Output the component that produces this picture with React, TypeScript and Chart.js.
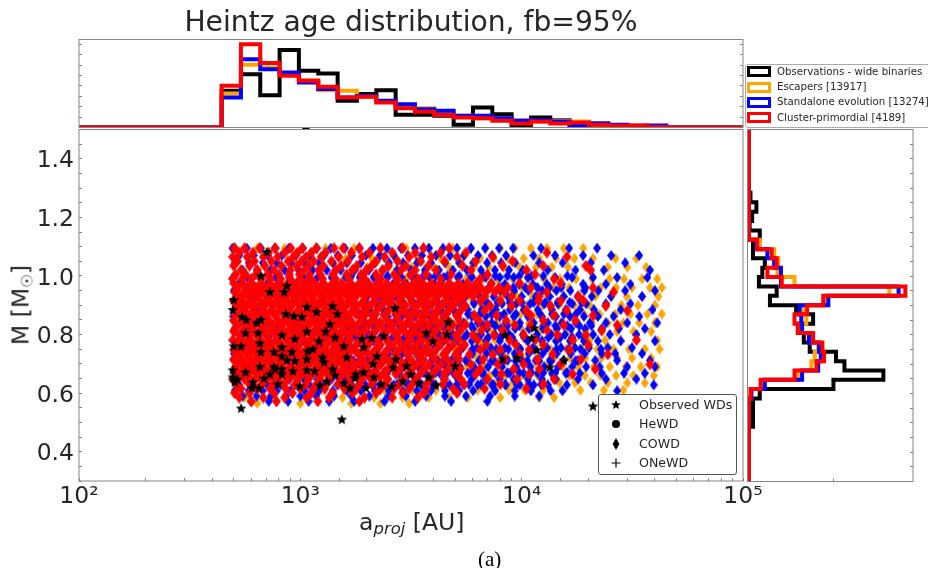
import { useEffect, useRef } from "react";
import { Chart, registerables } from "chart.js";
Chart.register(...registerables);

// ---- top histogram (projected separation) ----
const sepEdges = [441,539,659,806,985,1205,1474,1802,2204,2695,3295,4030,4927,6025,7369,9009,11015,13470,16474,20146,24635,30130,36840,45040];
const sepBlack = [.353,.513,.311,.744,.545,.519,.256,.321,.359,.122,.122,.112,.026,.192,.128,.016,.096,.07,.016,.006,0,0,0];
const sepOrange = [.327,.603,.577,.506,.455,.359,.353,.295,.25,.192,.186,.144,.112,.09,.09,.07,.058,.064,.058,.026,.016,.016,.01];
const sepBlue = [.288,.657,.561,.529,.433,.369,.288,.304,.256,.224,.176,.16,.112,.112,.09,.064,.07,.058,.016,.042,.026,.016,.019];
const sepRed = [.401,.801,.619,.497,.449,.391,.288,.295,.24,.186,.151,.119,.096,.09,.064,.038,.058,.038,.048,.026,.016,.019,.006];

// ---- right histogram (mass) ----
const massEdges = [.487,.519,.551,.583,.615,.647,.678,.71,.742,.774,.806,.838,.87,.901,.933,.965,.997,1.029,1.061,1.092,1.124,1.156,1.188,1.22,1.252,1.284];
const massBlack = [.05,.05,.05,.13,1,1.59,1.13,1.03,.72,.65,.58,.76,.56,.25,.33,.12,.16,.19,.05,.05,.13,.01,.04,.09,.02];
const massOrange = [0,0,0,.03,.18,.58,.74,.78,.82,.74,.58,.68,.64,.91,1.66,.54,.34,.35,.3,.13,0,0,0,0,0];
const massBlue = [0,0,0,.03,.19,.63,.82,.85,.83,.71,.63,.62,.6,.94,1.77,.38,.38,.3,.22,.09,0,0,0,0,0];
const massRed = [0,0,0,.02,.14,.54,.8,.89,.87,.76,.58,.54,.69,.88,1.85,.39,.22,.33,.27,.1,0,0,0,0,0];

// ---- observed white dwarfs: [a_proj, M] ----
const observedWDs = [[705,1.082],[663,1],[870,.966],[728,.945],[845,.945],[500,.918],[495,.884],[1070,.894],[1400,.897],[1185,.877],[1470,.87],[2680,.89],[860,.87],[935,.863],[1015,.86],[545,.86],[570,.85],[663,.85],[635,.84],[565,.805],[645,.805],[825,.798],[1070,.81],[1360,.835],[1300,.81],[1435,.79],[945,.785],[1215,.777],[656,.77],[500,.76],[540,.76],[663,.74],[760,.74],[825,.757],[915,.74],[1080,.743],[1140,.75],[825,.726],[870,.712],[945,.71],[1070,.716],[1260,.722],[1280,.705],[656,.69],[760,.69],[1570,.76],[1620,.722],[1900,.785],[2100,.788],[1930,.757],[2380,.795],[2220,.726],[2130,.7],[2700,.716],[2630,.688],[3710,.805],[3970,.777],[4660,.842],[4600,.8],[5000,.692],[3020,.692],[3150,.664],[495,.678],[565,.671],[495,.654],[520,.647],[505,.637],[685,.65],[728,.664],[770,.682],[825,.682],[825,.664],[925,.675],[1070,.678],[1160,.675],[1400,.682],[1435,.661],[1780,.664],[1930,.671],[2150,.654],[1760,.651],[610,.637],[605,.617],[650,.617],[995,.623],[1225,.627],[1320,.64],[1570,.634],[1675,.617],[1980,.617],[2320,.63],[2590,.623],[2900,.64],[3430,.634],[3810,.654],[4090,.627],[790,.63],[540,.548],[1540,.51],[8430,.798],[11400,.822],[11100,.788],[11700,.747],[8200,.716],[9500,.72],[13400,.688],[15500,.712],[21000,.555]];
const heWD = [[1060,1.515]];

// ---- simulated COWD, listed as mass rows with the separations read along each ----
const redMass = [1.095,1.08,1.065,1.05,1.035,1.02,1.005,.99,.975,.96,.945,.93,.915,.898,.882,.865,.848,.832,.815,.798,.782,.765,.748,.732,.715,.698,.682,.665,.648,.63,.615,.6,.585,.572,.955,.905,.87,.84,.81,.775,.74,.705,.675,.655];
const redAU = [
[505,560,655,770,905,1020,1180,1420,1560,1850,2300,2900,3600,4700],
[530,610,720,850,970,1120,1300,1700,2050,2600,3300,4300,5600,13000],
[495,575,680,790,930,1060,1240,1490,1900,2400,3100,3900,5100,7400,16000],
[520,620,740,880,1010,1150,1380,1640,2200,2750,3500,4500,6200,9100],
[500,590,690,820,960,1090,1270,1530,1800,2100,2500,3000,3800,5400,8200,12500,19500],
[540,640,760,900,1040,1210,1450,1720,1990,2350,2850,3300,4100,5900,10500,20500],
[510,565,630,710,800,890,990,1100,1230,1400,1620,1880,2200,2650,3150,3700,4800,7000,11500],
[495,545,600,665,735,815,900,1000,1110,1260,1440,1660,1950,2300,2750,3400,4300,6500,14000],
[500,549,603,662,727,798,876,962,1056,1160,1273,1398,1535,1685,1850,2032,2231,2449,2689,2953,3242,3560,3909,4292,4712,5174,5681,6237,7300,9800,15000],
[522,575,630,695,760,835,915,1008,1105,1215,1335,1465,1610,1765,1940,2130,2340,2570,2820,3100,3400,3730,4100,4500,4940,5430,5960,6540,7180,7880,8650,11000,21000],
[505,555,610,668,735,805,885,970,1065,1170,1285,1410,1550,1700,1870,2050,2250,2470,2715,2980,3270,3590,3945,4330,4755,5220,5730,6290,6900,7590,8330,13000,26000],
[530,582,640,702,770,845,930,1020,1120,1230,1350,1480,1625,1785,1960,2150,2365,2595,2850,3130,3435,3770,4140,4545,4990,5480,6020,6800,9000,12000,18000],
[498,548,602,660,725,796,874,960,1054,1157,1270,1395,1530,1700,1930,2180,2470,2800,3180,3600,4080,4620,5230,6500,8000,9800,11900,15000,19000],
[520,572,628,690,758,832,914,1003,1101,1209,1328,1458,1610,1810,2050,2320,2630,2980,3380,3830,4340,4920,5570,7200,9000,13500,24000],
[505,555,610,670,735,807,886,973,1068,1173,1288,1414,1552,1720,1950,2210,2500,2840,3210,3640,4130,4680,5300,6800,10500,16000,30000],
[530,582,639,702,771,846,929,1020,1120,1230,1351,1483,1640,1860,2110,2390,2710,3070,3480,3950,4470,5070,6100,7700,11000,14000,21000],
[498,546,600,659,723,794,872,957,1051,1154,1267,1392,1528,1690,1920,2170,2460,2790,3160,3590,4070,4610,5220,6400,8500,12500,17500],
[518,569,625,686,753,827,908,997,1095,1202,1320,1449,1600,1800,2040,2310,2620,2970,3370,3820,4330,4900,5560,7000,9300,11000,15500,27000],
[502,551,605,665,730,801,880,966,1061,1165,1279,1404,1542,1710,1940,2200,2490,2820,3200,3630,4110,4660,5280,6600,8200,13000,23000],
[528,580,637,699,768,843,926,1016,1116,1225,1345,1477,1630,1850,2100,2380,2700,3060,3470,3930,4450,5050,6000,7500,10200,14500,19500],
[496,545,598,657,721,792,870,955,1048,1151,1264,1388,1524,1680,1910,2160,2450,2780,3150,3570,4050,4590,5200,6300,8800,11500,17000,33000],
[516,567,622,683,750,824,905,993,1090,1197,1314,1443,1590,1790,2030,2300,2610,2960,3350,3800,4310,4880,5530,6900,9400,12500,20000],
[500,549,603,662,727,798,876,962,1056,1160,1273,1398,1535,1700,1930,2180,2470,2800,3180,3600,4080,4620,5230,6500,8000,10800,16500],
[525,576,633,695,763,838,920,1010,1109,1217,1337,1468,1620,1840,2090,2370,2680,3040,3450,3910,4430,5020,5800,7400,9800,13800,24500],
[498,547,601,660,725,796,874,960,1054,1157,1270,1395,1530,1690,1920,2170,2460,2790,3160,3590,4070,4610,5220,6700,8400,11800,18500],
[518,569,625,686,753,827,908,997,1095,1202,1320,1449,1600,1800,2040,2310,2620,2970,3370,3820,4330,4900,5900,7800,10200,15000,38000],
[502,551,605,665,730,801,880,966,1061,1165,1279,1404,1542,1710,1940,2200,2490,2820,3200,3630,4110,4660,5280,6500,9200,12000,21500],
[528,580,637,699,768,843,926,1016,1116,1225,1345,1477,1630,1850,2100,2380,2700,3060,3470,3930,4450,5050,6200,8100,10800,17000],
[496,560,625,700,790,880,975,1090,1220,1360,1520,1700,1900,2150,2480,2900,3300,3850,4500,5300,7000,9500,14000],
[515,590,670,750,840,945,1060,1180,1310,1480,1660,1850,2100,2400,2800,3200,3700,4400,5500,8000,12500],
[540,640,730,860,1000,1150,1290,1580,1780,2300,2650,3100,3700,4900,6800,10500],
[505,590,760,920,1120,1400,1720,2200,2900,3600,5100],
[530,680,850,1070,1350,1950,2600,3400],
[600,780,1200,1850],
[515,572,635,705,783,869,965,1071,1189,1320,1465,1626,1805,2004,2224,2469,2741,3042,3377,3748,4161,4618,5300,6100],
[540,600,668,742,823,914,1015,1127,1250,1390,1542,1712,1900,2110,2342,2600,2886,3204,3556,3948,4382,4864],
[508,564,626,695,772,857,951,1056,1172,1301,1444,1603,1780,1976,2193,2435,2703,3000,3330,3696,4103,4554],
[532,590,655,727,807,896,995,1104,1226,1361,1510,1677,1861,2066,2294,2546,2826,3137,3482,3865,4290,4762],
[500,555,616,684,759,843,936,1039,1153,1280,1421,1577,1751,1943,2157,2394,2658,2950,3275,3635,4035],
[525,583,647,718,797,885,982,1090,1210,1343,1491,1655,1837,2039,2263,2512,2789,3096,3436,3814,4233],
[512,568,631,700,777,863,958,1063,1180,1310,1454,1614,1792,1989,2208,2451,2720,3020,3352,3721],
[538,597,663,736,817,907,1007,1118,1241,1378,1530,1698,1885,2092,2322,2578,2862,3177,3526],
[505,561,622,691,767,851,945,1049,1164,1292,1434,1592,1767,1961,2177,2417,2683],
[528,586,650,722,801,889,987,1096,1217,1351,1500,1665,1848,2052,2278]
];

const blueMass = [1.095,1.07,1.045,1.02,.995,.972,.95,.93,.905,.885,.862,.84,.82,.8,.778,.755,.735,.712,.69,.668,.648,.628,.608,.59,.572,1,.96,.91,.87,.83,.79,.75,.71,.67,.63];
const blueAU = [
[495,573,663,767,887,1026,1187,1373,1589,1838,2127,2461,2847,3294,3811,4409,5101,5902,6828,7900,9140,12235,16378,21924],
[530,615,712,824,953,1103,1276,1476,1708,1976,2287,2646,3062,3543,4099,4743,5488,6350,7347,8500,11300,14156,18949,25365,33954],
[505,585,677,783,906,1048,1213,1403,1624,1879,2174,2516,2911,3368,3897,4509,5217,6036,6984,8081,9350,12000,15300,20500,29347],
[548,634,734,849,982,1136,1315,1521,1760,2037,2357,2727,3155,3651,4224,4888,5656,6544,7572,8761,10137,13100,17500,23500,38000],
[498,576,667,772,893,1033,1195,1383,1600,1851,2142,2478,2867,3318,3839,4442,5140,5947,6881,7962,9212,10660,14156,16900,21000,27000,37000],
[525,607,703,813,941,1089,1260,1458,1687,1952,2259,2614,3024,3499,4049,4685,5420,6272,7257,8397,9716,11242,13000,15200,18949,24000,31000],
[500,579,670,775,897,1038,1201,1390,1608,1861,2153,2491,2883,3336,3860,4466,5167,5979,6918,8005,9262,10717,12400,14348,16602,19209,22200,29347,40000],
[540,625,723,837,968,1120,1296,1500,1735,2008,2323,2688,3110,3599,4164,4818,5575,6451,7464,8637,9993,11563,13379,15480,17912,20725,25365,35000],
[510,590,683,790,914,1058,1224,1416,1639,1896,2194,2539,2938,3399,3933,4551,5266,6093,7050,8157,9438,10921,12636,14621,16917,19574,24000,31000],
[552,639,739,855,990,1145,1325,1533,1774,2053,2375,2748,3180,3679,4257,4926,5700,6595,7631,8830,10216,11821,13678,15826,18312,21188,28000,39000],
[498,576,667,772,893,1033,1195,1383,1600,1851,2142,2478,2867,3318,3839,4442,5140,5947,6881,7962,9212,10660,12334,14271,16513,19106,22107,26000,34000],
[530,613,710,821,950,1099,1272,1472,1703,1970,2280,2638,3052,3531,4086,4728,5470,6329,7323,8474,9805,11345,13127,15189,17574,20334,24000,30000,41000],
[505,584,676,782,905,1047,1211,1402,1622,1877,2171,2512,2907,3363,3892,4503,5210,6029,6975,8071,9338,10805,12502,14466,16738,19367,23000,27500,36000],
[548,634,734,849,982,1136,1315,1521,1760,2037,2357,2727,3155,3651,4224,4888,5656,6544,7572,8761,10137,11729,13571,15703,18170,21024,25000,33000],
[498,576,667,772,893,1033,1195,1383,1600,1851,2142,2478,2867,3318,3839,4442,5140,5947,6881,7962,9212,10660,12334,14271,16513,19106,22107,28000,40000],
[525,607,703,813,941,1089,1260,1458,1687,1952,2259,2614,3024,3499,4049,4685,5420,6272,7257,8397,9716,11242,13008,15051,17415,20150,24500,31500],
[502,581,672,778,900,1041,1205,1394,1613,1866,2159,2498,2891,3345,3870,4478,5181,5995,6937,8026,9287,10746,12434,14387,16647,19262,23000,26500,35000],
[540,625,723,837,968,1120,1296,1500,1735,2008,2323,2688,3110,3599,4164,4818,5575,6451,7464,8637,9993,11563,13379,15480,17912,21500,27000,38000],
[510,590,683,790,914,1058,1224,1416,1639,1896,2194,2539,2938,3399,3933,4551,5266,6093,7050,8157,9438,10921,12636,14621,16917,19574,22500,30000,40000],
[552,639,739,855,990,1145,1325,1533,1774,2053,2375,2748,3180,3679,4257,4926,5700,6595,7631,8830,10216,11821,13678,15826,18312,23000,29000,36000],
[498,576,667,772,893,1033,1195,1383,1600,1851,2142,2478,2867,3318,3839,4442,5140,5947,6881,7962,9212,10660,12334,14271,18000,24000,33000],
[530,613,710,821,950,1099,1272,1472,1703,1970,2280,2638,3052,3531,4086,4728,5470,6329,7323,8474,9805,11345,13127,16000,21000,39500],
[505,584,676,782,905,1047,1211,1402,1622,1877,2171,2512,2907,3363,3892,4503,5210,6029,7600,9300,11000,13500,15300,27000],
[548,634,734,860,1000,1180,1420,1700,2050,2500,3000,3700,4500,5600,7200,9300,12000],
[600,720,880,1090,1350,1750,2400,3300,4800,7000],
[1700,1926,2182,2472,2801,3173,3595,4073,4615,5229,5924,6712,7604,8615,9761,11059,12530,16084],
[1810,2050,2323,2632,2982,3378,3827,4336,4913,5566,6306,7145,8095,9171,10391,11773,13339,15113,19400],
[1740,1971,2233,2530,2866,3248,3680,4169,4723,5351,6063,6869,7782,8817,9990,11318,12823,14528,16460,18650],
[1860,2107,2387,2705,3065,3472,3934,4457,5050,5721,6482,7344,8320,9427,10680,12100,13709,15532,17597,21500],
[1700,1926,2182,2472,2801,3173,3595,4073,4615,5229,5924,6712,7604,8615,9761,11059,12530,14196,16084,18223,20647],
[1790,2028,2298,2603,2949,3341,3786,4289,4860,5506,6238,7067,8007,9072,10278,11645,13193,14947,16935,19187],
[1720,1949,2208,2502,2834,3211,3638,4122,4670,5291,5995,6792,7695,8718,9878,11191,12680,14366,16276,18441,22800],
[1850,2096,2375,2691,3049,3454,3913,4433,5023,5691,6448,7305,8277,9377,10624,12037,13638,15451,17506],
[1700,1926,2182,2472,2801,3173,3595,4073,4615,5229,5924,6712,7604,8615,9761,11059,12530,14196,16084],
[1880,2130,2413,2734,3098,3510,3977,4506,5105,5784,6553,7425,8412,9531,10799,12235]
];

const orangeMass = [1.095,1.06,1.03,.99,.96,.93,.9,.87,.84,.81,.78,.75,.72,.69,.66,.635,.61,.585,.565];
const orangeAU = [
[492,640,850,1300,1750,2300,3000,3800,4900,5900,6900,8000,9300,11000,13000,15500,19000],
[600,1100,1600,2100,2700,3400,4300,5400,6500,7500,8700,10200,12000,14300,17300,21000,26500,33000],
[700,1450,2000,2500,3200,4000,4700,6100,7100,8300,9800,11600,13700,16200,19800,24500,30000,36500],
[1200,2300,3000,3600,4400,5600,6700,7800,9100,10700,12600,14900,17600,20800,25000,29000,35000,41000],
[2600,3400,4200,5200,6300,7300,8500,10000,11800,13900,16400,19300,22700,26700,31500,38000,43000],
[3000,3900,4800,5800,6900,8100,9500,11200,13200,15500,18300,21500,25300,29800,35000,41500],
[2800,3600,4500,5500,6600,7700,9000,10600,12500,14700,17300,20300,24000,28200,33500,40000],
[3300,4200,5100,6100,7200,8400,9900,11700,13800,16200,19100,22500,26500,31000,37000,43000],
[2900,3700,4600,5600,6700,7800,9200,10800,12700,15000,17700,20800,24500,28800,34000,40000],
[3400,4300,5300,6300,7400,8700,10200,12000,14100,16600,19500,23000,27000,32000,38500],
[2700,3500,4400,5400,6500,7600,8900,10500,12400,14600,17200,20200,23800,28000,33000,41000],
[3100,4000,5000,6000,7100,8300,9800,11500,13500,15900,18700,22000,26000,30500,36000,42000],
[2500,3300,4200,5200,6300,7400,8600,10100,11900,14000,16500,19400,22900,27000,31500,38500],
[2900,3800,4700,5700,6800,8000,9400,11100,13000,15300,18000,21200,25000,29500,34500,41000],
[1300,2100,3000,4000,5000,6100,7200,8500,10000,11800,13900,16400,19300,22700,26700,32000,39500],
[700,1500,2500,3400,4500,5500,6600,7700,9100,10700,12600,14800,17400,20500,24500,30000,36000],
[510,900,1250,1800,2400,3200,4100,5200,6300,7500,8800,10300,12500,15200,18400,23500,28800],
[560,760,1050,1550,2150,2900,3800,4700,5700,8000,12000,14000],
[640,1000,1700,2300,3100]
];

const rowsToPoints = (masses: number[], rows: number[][]) =>
  rows.flatMap((row, i) => row.map((a) => ({ x: a, y: masses[i] })));

const histX = (edges: number[], vals: number[], lo: number, hi: number) => {
  const pts = [{ x: lo, y: 0 }];
  vals.forEach((v, i) => pts.push({ x: edges[i], y: v }, { x: edges[i + 1], y: v }));
  pts.push({ x: edges[edges.length - 1], y: 0 }, { x: hi, y: 0 });
  pts.splice(1, 0, { x: edges[0], y: 0 });
  return pts;
};
const histY = (edges: number[], vals: number[], lo: number, hi: number) =>
  histX(edges, vals, lo, hi).map((p) => ({ x: p.y, y: p.x }));

const BLACK = "#000000";
const ORANGE = "#ffa500";
const BLUE = "#0000ff";
const RED = "#ff0000";
const TEXT = "#262626";
const SPINE = "#858585";
const FONT = "'DejaVu Sans', sans-serif";

const polygonSprite = (w: number, h: number, color: string, pts: number[][]) => {
  const c = document.createElement("canvas");
  c.width = w;
  c.height = h;
  const g = c.getContext("2d")!;
  g.fillStyle = color;
  g.beginPath();
  pts.forEach(([x, y], i) => (i ? g.lineTo(x, y) : g.moveTo(x, y)));
  g.closePath();
  g.fill();
  return c;
};
const diamond = (color: string, w: number, h: number) =>
  polygonSprite(w, h, color, [[w / 2, 0], [w, h / 2], [w / 2, h], [0, h / 2]]);
const starPoints = (cx: number, cy: number, R: number) => {
  const out: number[][] = [];
  for (let i = 0; i < 10; i++) {
    const r = i % 2 ? R * 0.45 : R;
    const t = -Math.PI / 2 + (i * Math.PI) / 5;
    out.push([cx + r * Math.cos(t), cy + r * Math.sin(t)]);
  }
  return out;
};

const framePlugin = {
  id: "frame",
  afterDraw(chart: any) {
    const { ctx, chartArea: a } = chart;
    ctx.save();
    ctx.strokeStyle = SPINE;
    ctx.lineWidth = 1;
    ctx.strokeRect(a.left, a.top, a.right - a.left, a.bottom - a.top);
    ctx.restore();
  },
};

const tickGrid = { drawOnChartArea: false, drawTicks: true, tickLength: -3, tickColor: SPINE, tickWidth: 1 };
const noBorder = { display: false };

const histLine = (data: any[], color: string) => ({
  data,
  type: "line",
  borderColor: color,
  borderWidth: 4,
  pointRadius: 0,
  tension: 0,
  fill: false,
  clip: 0,
  borderJoinStyle: "miter",
});

const scatter = (data: any[], style: any, radius = 5.5, clip: any = 0) => ({
  data,
  showLine: false,
  pointStyle: style,
  pointRadius: radius,
  pointHoverRadius: radius,
  backgroundColor: BLACK,
  borderColor: BLACK,
  borderWidth: 0,
  clip,
});

export default function App() {
  const mainRef = useRef<HTMLCanvasElement>(null);
  const topRef = useRef<HTMLCanvasElement>(null);
  const rightRef = useRef<HTMLCanvasElement>(null);

  useEffect(() => {
    const star = polygonSprite(12, 12, BLACK, starPoints(6, 6.3, 5.5));
    const main = new Chart(mainRef.current!, {
      type: "scatter",
      data: {
        datasets: [
          scatter(observedWDs.map(([x, y]) => ({ x, y })), star),
          scatter(heWD.map(([x, y]) => ({ x, y })), "circle", 5, { left: 0, right: 0, bottom: 0, top: 2.5 }),
          scatter(rowsToPoints(redMass, redAU), diamond(RED, 9, 12)),
          scatter(rowsToPoints(blueMass, blueAU), diamond(BLUE, 8, 11)),
          scatter(rowsToPoints(orangeMass, orangeAU), diamond(ORANGE, 8, 11)),
        ] as any,
      },
      plugins: [framePlugin],
      options: {
        animation: false,
        responsive: false,
        events: [],
        layout: { padding: { left: 0, top: 129.5, right: 185, bottom: 0 } },
        plugins: { legend: { display: false }, tooltip: { enabled: false } },
        scales: {
          x: {
            type: "logarithmic",
            min: 100,
            max: 100000,
            afterFit: (s: any) => { s.height = 87; },
            grid: tickGrid,
            border: noBorder,
            ticks: {
              autoSkip: false,
              maxRotation: 0,
              padding: 5,
              color: TEXT,
              font: { family: FONT, size: 23.5 },
              callback: (v: any) =>
                ({ 100: "10²", 1000: "10³", 10000: "10⁴", 100000: "10⁵" } as any)[Number(v)] ?? "",
            },
          },
          y: {
            min: 0.3,
            max: 1.5,
            afterFit: (s: any) => { s.width = 79; },
            grid: tickGrid,
            border: noBorder,
            ticks: {
              stepSize: 0.05,
              autoSkip: false,
              padding: 8,
              labelOffset: 2.5,
              color: TEXT,
              font: { family: FONT, size: 23.5 },
              callback: (v: any) => {
                const k = Math.round(Number(v) * 100);
                return k % 20 === 0 ? (k / 100).toFixed(1) : "";
              },
            },
          },
        },
      } as any,
    });

    const top = new Chart(topRef.current!, {
      type: "scatter",
      data: {
        datasets: [
          histLine(histX(sepEdges, sepRed, 100, 100000), RED),
          histLine(histX(sepEdges, sepBlue, 100, 100000), BLUE),
          histLine(histX(sepEdges, sepOrange, 100, 100000), ORANGE),
          histLine(histX(sepEdges, sepBlack, 100, 100000), BLACK),
        ] as any,
      },
      plugins: [framePlugin],
      options: {
        animation: false,
        responsive: false,
        events: [],
        layout: { padding: { left: 79, top: 0, right: 185, bottom: 440.5 } },
        plugins: {
          legend: { display: false },
          tooltip: { enabled: false },
          title: {
            display: true,
            text: "Heintz age distribution, fb=95%",
            fullSize: false,
            color: TEXT,
            font: { family: FONT, size: 28.2, weight: "normal", lineHeight: 1 },
            padding: { top: 10, bottom: 1.3 },
          },
        },
        scales: {
          x: { type: "logarithmic", min: 100, max: 100000, display: false },
          y: {
            min: 0,
            max: 0.846,
            afterFit: (s: any) => { s.width = 0; },
            grid: tickGrid,
            border: noBorder,
            ticks: { stepSize: 0.1, includeBounds: false, autoSkip: false, callback: () => "" },
          },
          yRight: {
            position: "right",
            min: 0,
            max: 0.846,
            afterFit: (s: any) => { s.width = 0; },
            grid: tickGrid,
            border: noBorder,
            ticks: { stepSize: 0.1, includeBounds: false, autoSkip: false, callback: () => "" },
          },
        },
      } as any,
    });

    const right = new Chart(rightRef.current!, {
      type: "scatter",
      data: {
        datasets: [
          histLine(histY(massEdges, massRed, 0.3, 1.5), RED),
          histLine(histY(massEdges, massBlue, 0.3, 1.5), BLUE),
          histLine(histY(massEdges, massOrange, 0.3, 1.5), ORANGE),
          histLine(histY(massEdges, massBlack, 0.3, 1.5), BLACK),
        ] as any,
      },
      plugins: [framePlugin],
      options: {
        animation: false,
        responsive: false,
        events: [],
        layout: { padding: { left: 747.5, top: 129.5, right: 15, bottom: 86.5 } },
        plugins: { legend: { display: false }, tooltip: { enabled: false } },
        scales: {
          x: {
            min: -0.015,
            max: 1.94,
            afterFit: (s: any) => { s.height = 0; },
            grid: tickGrid,
            border: noBorder,
            ticks: { stepSize: 1, includeBounds: false, autoSkip: false, callback: () => "" },
          },
          y: {
            position: "right",
            min: 0.3,
            max: 1.5,
            afterFit: (s: any) => { s.width = 0; },
            grid: tickGrid,
            border: noBorder,
            ticks: { stepSize: 0.05, autoSkip: false, callback: () => "" },
          },
        },
      } as any,
    });

    return () => {
      main.destroy();
      top.destroy();
      right.destroy();
    };
  }, []);

  const layer: React.CSSProperties = { position: "absolute", left: 0, top: 0 };
  const text: React.CSSProperties = { position: "absolute", color: TEXT, fontFamily: FONT, whiteSpace: "nowrap" };
  const histLegend = [
    ["Observations - wide binaries", BLACK, 71.7],
    ["Escapers [13917]", ORANGE, 87.2],
    ["Standalone evolution [13274]", BLUE, 102.4],
    ["Cluster-primordial [4189]", RED, 117.7],
  ] as const;
  const wdLegend = [
    ["Observed WDs", 405, <polygon key="s" points={starPoints(8, 8, 5).map((p) => p.join(",")).join(" ")} fill="#000" />],
    ["HeWD", 424.3, <circle key="c" cx="8" cy="8" r="4" fill="#000" />],
    ["COWD", 443.7, <polygon key="d" points="8,2 11.4,8 8,14 4.6,8" fill="#000" />],
    ["ONeWD", 463, <path key="p" d="M8 3.5V12.5M3.5 8H12.5" stroke="#000" strokeWidth="1.2" fill="none" />],
  ] as const;

  return (
    <div style={{ position: "absolute", left: 0, top: 0, width: 928, height: 568, overflow: "hidden", background: "#fff" }}>
      <canvas ref={mainRef} width={928} height={568} style={layer} />
      <canvas ref={topRef} width={928} height={568} style={layer} />
      <canvas ref={rightRef} width={928} height={568} style={layer} />

      <div style={{ ...text, left: 745, top: 63.5, width: 200, height: 64, boxSizing: "border-box", background: "rgba(255,255,255,0.85)", border: "1px solid #aaa", borderRadius: 3 }} />
      {histLegend.map(([label, color, y]) => (
        <div key={label}>
          <div style={{ position: "absolute", left: 747, top: y - 5.5, width: 24, height: 11, boxSizing: "border-box", border: `3.5px solid ${color}` }} />
          <div style={{ ...text, left: 777, top: y - 7, fontSize: 10.2, lineHeight: "14px" }}>{label}</div>
        </div>
      ))}

      <div style={{ position: "absolute", left: 598, top: 394, width: 139, height: 81, boxSizing: "border-box", background: "rgba(255,255,255,0.9)", border: "1px solid #555", borderRadius: 3 }} />
      {wdLegend.map(([label, y, mark]) => (
        <div key={label as string}>
          <svg width="16" height="16" style={{ position: "absolute", left: 608, top: (y as number) - 8 }}>{mark}</svg>
          <div style={{ ...text, left: 639, top: (y as number) - 9, fontSize: 12.6, lineHeight: "18px" }}>{label}</div>
        </div>
      ))}

      <div style={{ ...text, left: 359, top: 507, fontSize: 23.5, lineHeight: "30px" }}>
        a<span style={{ fontSize: 16.5, fontStyle: "italic", position: "relative", top: 4 }}>proj</span> [AU]
      </div>
      <div style={{ ...text, left: 22, top: 305, fontSize: 23.5, lineHeight: "30px", transform: "translate(-50%,-50%) rotate(-90deg)" }}>
        M [M<span style={{ fontSize: 15.5, position: "relative", top: 4 }}>☉</span>]
      </div>
      <div style={{ position: "absolute", left: 478, top: 547, fontFamily: "'Liberation Serif', serif", fontSize: 21, lineHeight: "24px", color: "#000" }}>(a)</div>
    </div>
  );
}
